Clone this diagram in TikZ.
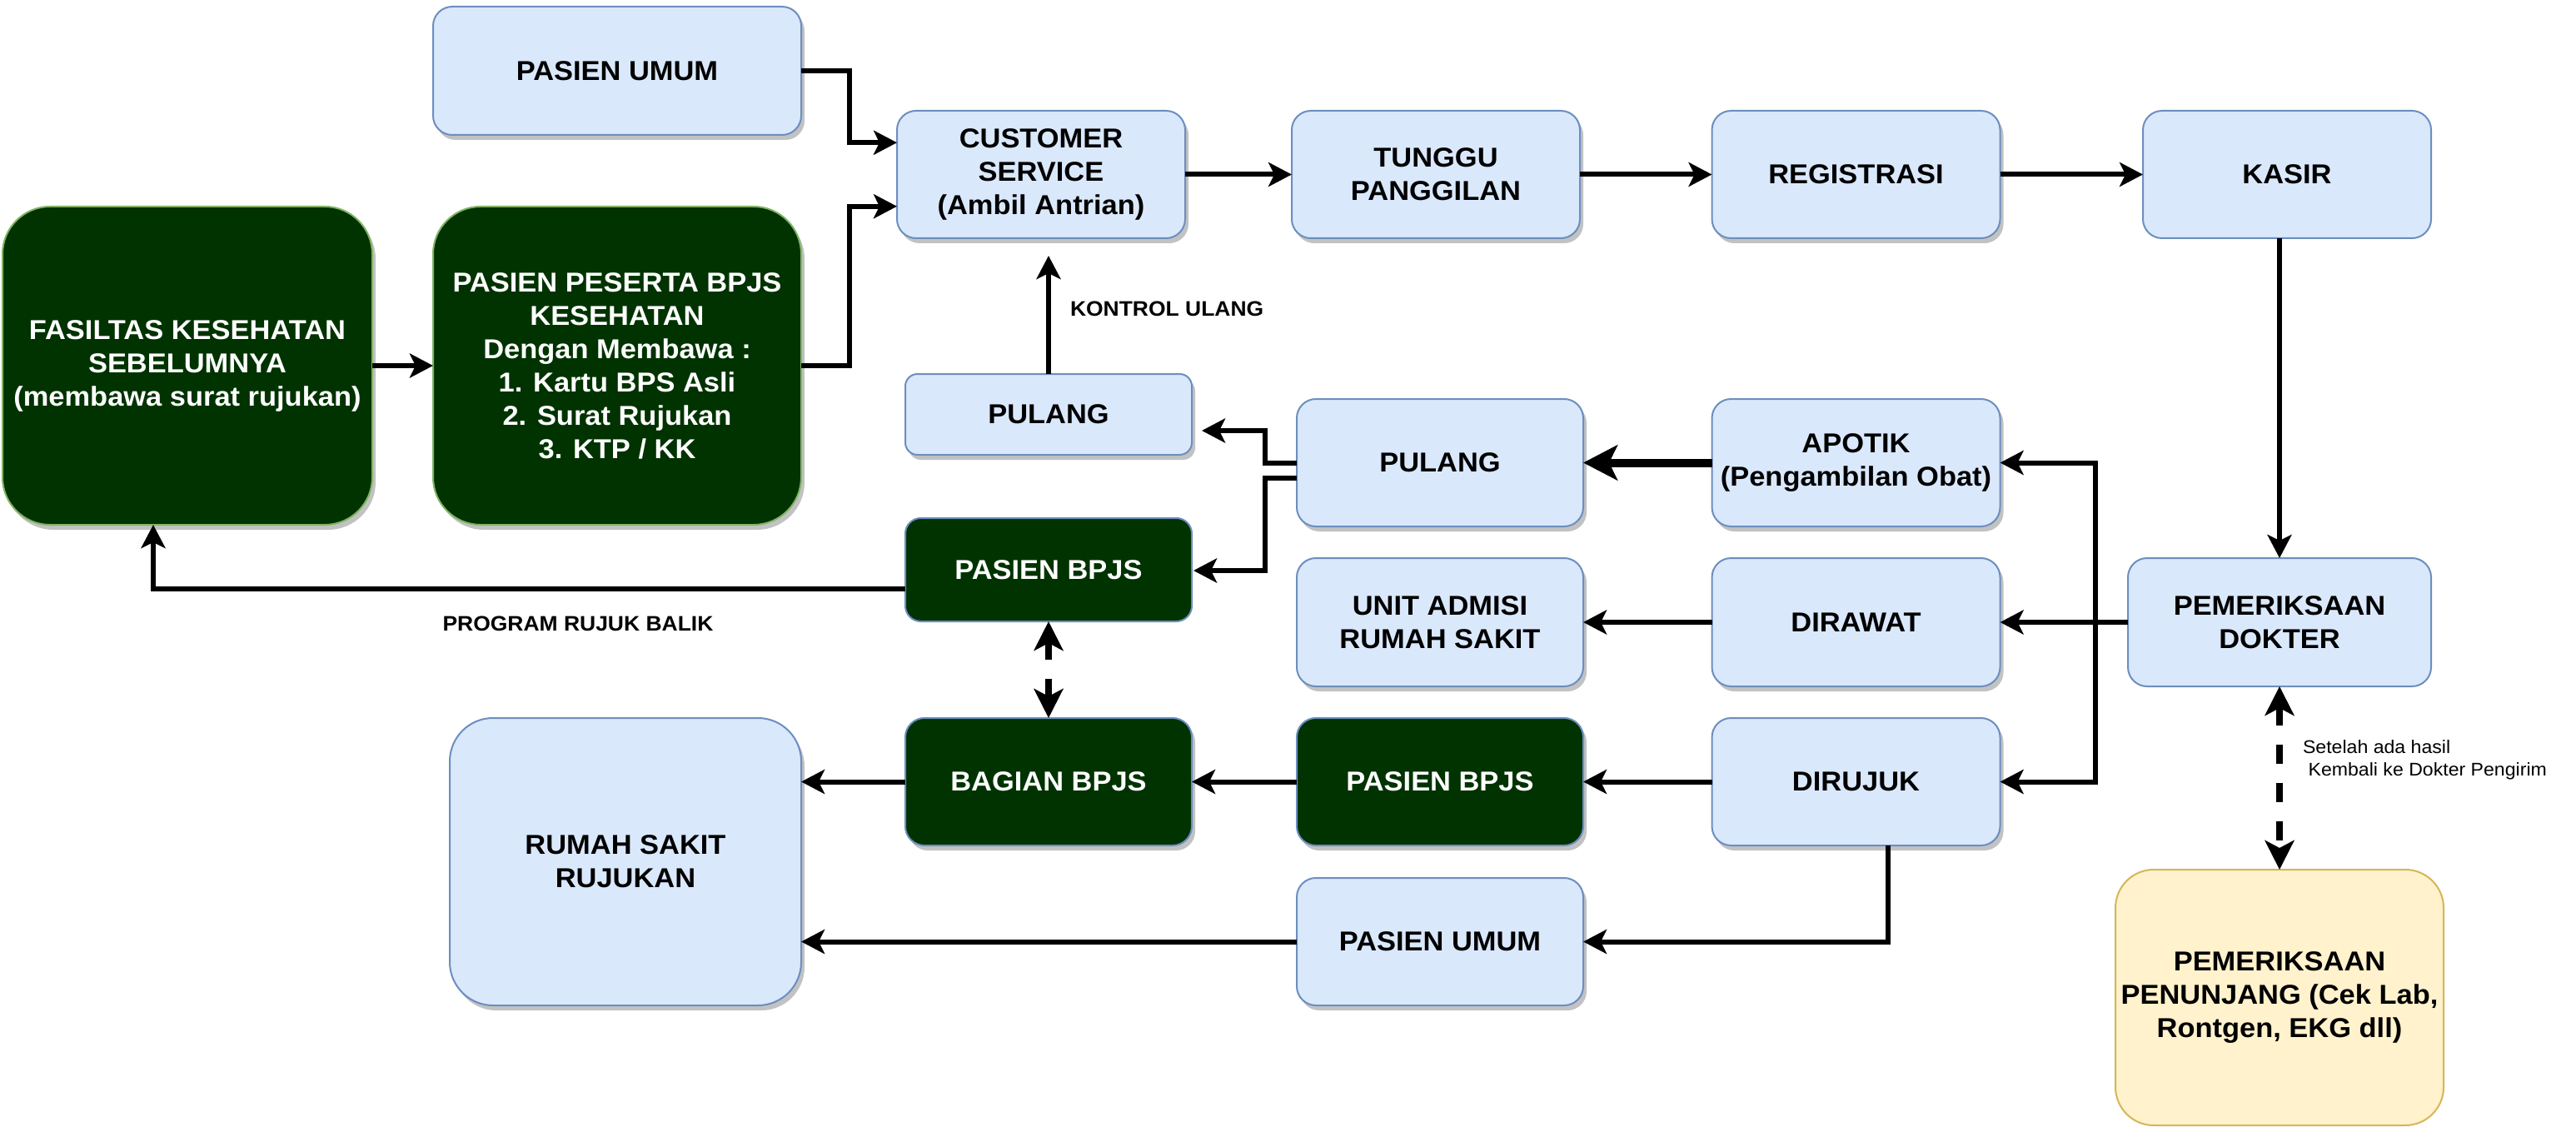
\documentclass[tikz,border=0pt]{standalone}
\usepackage{fontspec}
\setmainfont{Liberation Sans}[FakeStretch=1.05]
\usetikzlibrary{arrows.meta,shadows,calc}
\definecolor{bfill}{HTML}{DAE8FC}
\definecolor{bline}{HTML}{6C8EBF}
\definecolor{gfill}{HTML}{003300}
\definecolor{gline}{HTML}{82B366}
\definecolor{yfill}{HTML}{FFF2CC}
\definecolor{yline}{HTML}{D6B656}
\definecolor{shade}{HTML}{C2C2C2}
\tikzset{
  every node/.style={inner sep=0pt, outer sep=0pt},
  bx/.style={line width=1pt, align=center, font=\fontsize{16.4}{20}\selectfont\bfseries},
  bluebox/.style={bx, fill=bfill, draw=bline, text=black},
  greenbox/.style={bx, fill=gfill, draw=gline, text=white},
  greenboxb/.style={bx, fill=gfill, draw=bline, text=white},
  yellowbox/.style={bx, fill=yfill, draw=yline, text=black},
  shd/.style={drop shadow={shadow xshift=2pt, shadow yshift=-3pt, opacity=1, fill=shade}},
  std/.style={minimum width=173pt, minimum height=76.5pt, rounded corners=11.5pt},
  arr/.style={line width=3pt, -{Stealth[length=14pt,width=14.5pt,inset=3.5pt]}},
  thickarr/.style={line width=5pt, -{Stealth[length=20.5pt,width=21pt,inset=5pt]}},
  dasharr/.style={line width=4pt, dash pattern=on 11.5pt off 11.5pt,
     {Stealth[length=17.5pt,width=17.5pt,inset=4.5pt]}-{Stealth[length=17.5pt,width=17.5pt,inset=4.5pt]}},
  lbl/.style={font=\fontsize{12.6}{15}\selectfont\bfseries},
  smalllbl/.style={font=\fontsize{11}{13.5}\selectfont, align=left},
}
\begin{document}
\begin{tikzpicture}[x=1pt,y=-1pt]
\fill[white] (0,0) rectangle (1546.5,676.5);
\useasboundingbox (0,0) rectangle (1546.5,676.5);

% top row
\node[bluebox, shd, minimum width=221pt, minimum height=77pt, rounded corners=11.5pt] (putop) at (370.5,42.5) {PASIEN UMUM};
\node[bluebox, shd, std] (cs) at (625,104.75) {CUSTOMER\\SERVICE\\(Ambil Antrian)};
\node[bluebox, shd, std] (tunggu) at (862,104.75) {TUNGGU\\PANGGILAN};
\node[bluebox, shd, std] (reg) at (1114.25,104.75) {REGISTRASI};
\node[bluebox, std] (kasir) at (1373,104.75) {KASIR};

% green left boxes
\node[greenbox, shd, minimum width=222pt, minimum height=191pt, rounded corners=28.5pt] (fas) at (112.5,219.5) {FASILTAS KESEHATAN\\SEBELUMNYA\\(membawa surat rujukan)};
\node[greenbox, shd, minimum width=221pt, minimum height=191pt, rounded corners=28.5pt] (peserta) at (370.5,219.5) {PASIEN PESERTA BPJS\\KESEHATAN\\Dengan Membawa :\\1. Kartu BPS Asli\\2. Surat Rujukan\\3. KTP / KK};

% middle
\node[bluebox, shd, minimum width=172pt, minimum height=48.5pt, rounded corners=7.3pt] (pulsmall) at (629.5,248.75) {PULANG};
\node[bluebox, shd, minimum width=172pt, minimum height=76.5pt, rounded corners=11.5pt] (pulbig) at (864.5,277.75) {PULANG};
\node[bluebox, shd, std] (apotik) at (1114.25,277.75) {APOTIK\\(Pengambilan Obat)};
\node[greenboxb, minimum width=172pt, minimum height=62pt, rounded corners=9.3pt] (green1) at (629.5,342) {PASIEN BPJS};
\node[bluebox, shd, minimum width=172pt, minimum height=77pt, rounded corners=11.5pt] (unit) at (864.5,373.5) {UNIT ADMISI\\RUMAH SAKIT};
\node[bluebox, shd, minimum width=173pt, minimum height=77pt, rounded corners=11.5pt] (dirawat) at (1114.25,373.5) {DIRAWAT};
\node[bluebox, minimum width=182pt, minimum height=77pt, rounded corners=11.5pt] (pd) at (1368.5,373.5) {PEMERIKSAAN\\DOKTER};

% lower rows
\node[greenboxb, shd, minimum width=172pt, minimum height=76.5pt, rounded corners=11.5pt] (bagian) at (629.5,469.25) {BAGIAN BPJS};
\node[greenboxb, shd, minimum width=172pt, minimum height=76.5pt, rounded corners=11.5pt] (pbmid) at (864.5,469.25) {PASIEN BPJS};
\node[bluebox, shd, std] (dirujuk) at (1114.25,469.25) {DIRUJUK};
\node[bluebox, shd, minimum width=172pt, minimum height=76.5pt, rounded corners=11.5pt] (pubot) at (864.5,565.25) {PASIEN UMUM};
\node[bluebox, shd, minimum width=211pt, minimum height=172.5pt, rounded corners=26pt] (rs) at (375.5,517.25) {RUMAH SAKIT\\RUJUKAN};
\node[yellowbox, minimum width=197pt, minimum height=153.5pt, rounded corners=23pt] (pen) at (1368.5,598.75) {PEMERIKSAAN\\PENUNJANG (Cek Lab,\\Rontgen, EKG dll)};

% connectors
\draw[arr] (putop.east) -- ++(29,0) |- ($(cs.north west)!0.25!(cs.south west)$);
\draw[arr] (peserta.east) -- ++(29,0) |- ($(cs.north west)!0.75!(cs.south west)$);
\draw[arr] (fas.east) -- (peserta.west);
\draw[arr] (cs.east) -- (tunggu.west);
\draw[arr] (tunggu.east) -- (reg.west);
\draw[arr] (reg.east) -- (kasir.west);
\draw[arr] (kasir.south -| pd.north) -- (pd.north);
\draw[arr] (pd.west) -- (dirawat.east);
\draw[arr] (pd.west) -- ++(-19.5,0) |- (apotik.east);
\draw[arr] (pd.west) -- ++(-19.5,0) |- (dirujuk.east);
\draw[thickarr] (apotik.west) -- (pulbig.east);
\draw[arr] (dirawat.west) -- (unit.east);
\draw[arr] (dirujuk.west) -- (pbmid.east);
\draw[arr] ([xshift=19.25pt]dirujuk.south) |- (pubot.east);
\draw[arr] (pbmid.west) -- (bagian.east);
\draw[arr] (bagian.west) -- (rs.east |- bagian.west);
\draw[arr] (pubot.west) -- (rs.east |- pubot.west);
\draw[dasharr] (bagian.north) -- (green1.south);
\draw[arr] (pulbig.west) -- ++(-19,0) |- ([shift={(6,9.75)}]pulsmall.east);
\draw[arr] ([yshift=-9.25pt]pulbig.west) -- ++(-19,0) |- ([shift={(1,0.5)}]green1.east);
\draw[arr] ([yshift=-11.5pt]green1.west) -| ([xshift=-20.5pt]fas.south);
\draw[arr] (pulsmall.north) -- ($(pulsmall.north |- cs.south)+(0,10.5)$);
\draw[dasharr] (pd.south) -- (pen.north);

% labels
\node[lbl, anchor=west] (kontrol) at (642.5,185.5) {KONTROL ULANG};
\node[lbl] (rujukbalik) at (347,374.5) {PROGRAM RUJUK BALIK};
\node[smalllbl, anchor=west] (setelah) at (1382.5,456) {Setelah ada hasil\\\hspace*{0.3em}Kembali ke Dokter Pengirim};
\end{tikzpicture}
\end{document}
